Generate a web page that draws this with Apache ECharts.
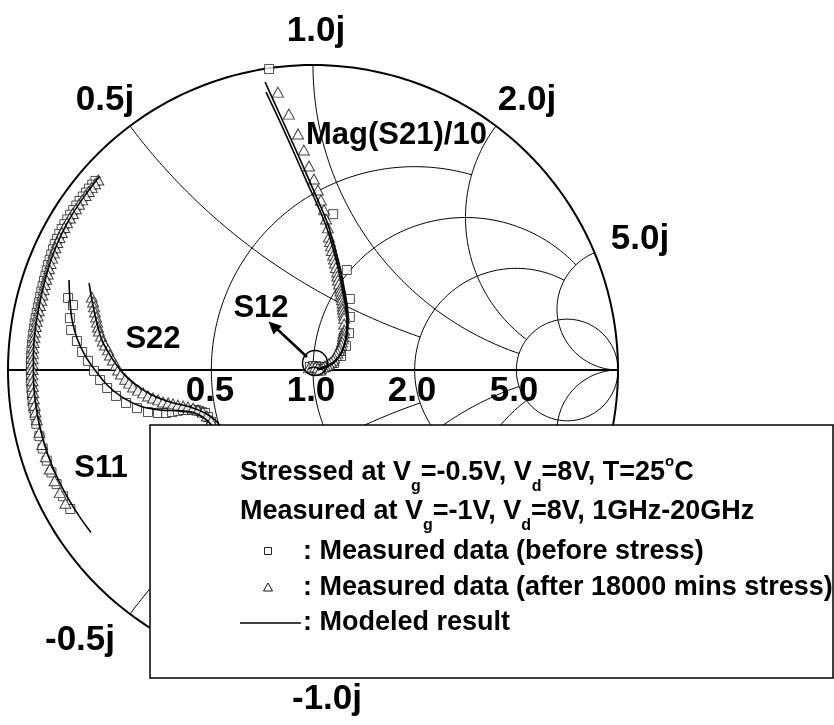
<!DOCTYPE html>
<html><head><meta charset="utf-8">
<script src="https://cdn.jsdelivr.net/npm/echarts@6/dist/echarts.min.js"></script>
<style>html,body{margin:0;padding:0;background:#fff;}#c{width:834px;height:725px;}</style>
</head><body><div id="c"></div>
<script>
// ---------------- DATA (reflection-coefficient plane) ----------------
// Smith chart grid values
const rValues = [0.5, 1, 2, 5];
const rLimits = [2, 5, 5, Infinity];   // reactance limit for each resistance circle
const xValues = [0.5, 1, 2, 5];
const xLimits = [2, 5, 5, Infinity];   // resistance limit for each reactance arc
const rTickLabels = ['0.5', '1.0', '2.0', '5.0'];
const xTickLabels = ['1.0j', '0.5j', '2.0j', '5.0j', '-0.5j', '-1.0j'];

// S11 (magnitude, angle in degrees)
const s11SqAng = [139.0,140.0,141.0,142.0,143.0,144.1,145.2,146.3,147.4,148.5,149.6,150.7,151.8,152.9,154.0,155.1,156.2,157.3,158.4,159.5,160.6,161.7,162.8,163.9,165.0,166.1,167.2,168.3,169.4,170.5,171.6,172.7,173.8,174.9,176.0,177.1,178.2,179.3,180.4,181.5,182.7,183.9,185.1,186.4,187.7,189.2,191.0,193.6,196.2,198.8,201.4,204.0,206.8,209.8];
const s11SqMag = [0.945,0.945,0.945,0.945,0.945,0.945,0.945,0.945,0.945,0.945,0.945,0.945,0.944,0.943,0.942,0.940,0.938,0.936,0.934,0.932,0.930,0.929,0.928,0.927,0.926,0.925,0.925,0.925,0.925,0.925,0.925,0.925,0.925,0.925,0.925,0.925,0.925,0.925,0.925,0.925,0.925,0.925,0.925,0.925,0.925,0.924,0.924,0.923,0.923,0.922,0.921,0.920,0.918,0.917];
const s11TrAng = [138.5,139.5,140.5,141.5,142.5,143.6,144.7,145.8,146.9,148.0,149.1,150.2,151.3,152.4,153.5,154.6,155.7,156.8,157.9,159.0,160.1,161.2,162.3,163.4,164.5,165.6,166.7,167.8,168.9,170.0,171.1,172.2,173.3,174.4,175.5,176.6,177.7,178.8,179.9,181.0,182.2,183.4,184.6,185.9,187.2,188.6,190.2,192.8,195.4,198.0,200.6,203.2,205.8,208.3];
const s11TrMag = [0.940,0.940,0.940,0.940,0.940,0.940,0.940,0.940,0.940,0.940,0.940,0.940,0.939,0.938,0.937,0.935,0.933,0.931,0.929,0.927,0.925,0.924,0.923,0.922,0.921,0.920,0.920,0.920,0.920,0.920,0.920,0.920,0.920,0.920,0.920,0.920,0.920,0.920,0.920,0.920,0.920,0.920,0.920,0.920,0.920,0.920,0.920,0.920,0.921,0.921,0.922,0.922,0.922,0.922];
const s11ModAng = [137.8,142,147,152,157,162,167,172,177,182,187,192,197,202,207,212,216.2];
const s11ModMag = [0.945,0.942,0.940,0.937,0.932,0.926,0.922,0.920,0.918,0.917,0.916,0.915,0.913,0.910,0.907,0.904,0.902];

// S22 (real, imaginary)
const s22SqRe = [-0.803,-0.787,-0.797,-0.793,-0.774,-0.757,-0.738,-0.718,-0.698,-0.675,-0.646,-0.613,-0.577,-0.541,-0.508,-0.482,-0.462,-0.443,-0.426,-0.410,-0.397,-0.384,-0.374,-0.364,-0.354,-0.344,-0.334];
const s22SqIm = [0.236,0.213,0.170,0.131,0.095,0.059,0.030,-0.003,-0.033,-0.059,-0.085,-0.108,-0.125,-0.138,-0.141,-0.141,-0.138,-0.134,-0.131,-0.131,-0.131,-0.131,-0.134,-0.138,-0.141,-0.154,-0.170];
const s22TrRe = [-0.725,-0.721,-0.718,-0.715,-0.711,-0.708,-0.705,-0.702,-0.695,-0.689,-0.682,-0.672,-0.666,-0.656,-0.646,-0.639,-0.630,-0.616,-0.603,-0.590,-0.574,-0.557,-0.541,-0.525,-0.508,-0.492,-0.475,-0.459,-0.443,-0.426,-0.410,-0.393,-0.377,-0.361,-0.348,-0.334];
const s22TrIm = [0.239,0.223,0.207,0.190,0.174,0.157,0.141,0.128,0.111,0.095,0.082,0.066,0.049,0.033,0.016,0.000,-0.013,-0.030,-0.043,-0.056,-0.066,-0.075,-0.085,-0.092,-0.098,-0.105,-0.108,-0.111,-0.115,-0.118,-0.121,-0.125,-0.131,-0.138,-0.151,-0.167];
const s22ModARe = [-0.800,-0.797,-0.790,-0.774,-0.748,-0.715,-0.675,-0.626,-0.567,-0.502,-0.436,-0.387,-0.348,-0.321];
const s22ModAIm = [0.295,0.230,0.164,0.105,0.049,0.000,-0.049,-0.089,-0.118,-0.131,-0.134,-0.141,-0.164,-0.197];
const s22ModBRe = [-0.734,-0.725,-0.711,-0.692,-0.662,-0.626,-0.580,-0.528,-0.469,-0.403,-0.354,-0.321,-0.298];
const s22ModBIm = [0.285,0.230,0.164,0.098,0.043,-0.007,-0.049,-0.082,-0.105,-0.121,-0.141,-0.164,-0.190];

// S21/10 (real, imaginary)
const s21SqRe = [-0.144,0.066,0.111,0.121,0.121,0.118,0.108,0.092,0.069,0.043];
const s21SqIm = [0.987,0.511,0.328,0.233,0.174,0.121,0.079,0.046,0.023,0.010];
const s21TrRe = [-0.115,-0.079,-0.049,-0.030,-0.013,0.003,0.016,0.026,0.036,0.043,0.049,0.052,0.056,0.059,0.062,0.066,0.069,0.072,0.075,0.079,0.080,0.082,0.085,0.089,0.090,0.092,0.094,0.095,0.097,0.098,0.098,0.100,0.102,0.102,0.102,0.102,0.100,0.098,0.098,0.095,0.092,0.088,0.085,0.080,0.075,0.070,0.066,0.059,0.052,0.046,0.039,0.033,0.026,0.020,0.013];
const s21TrIm = [0.911,0.839,0.774,0.721,0.669,0.626,0.590,0.557,0.525,0.495,0.466,0.436,0.421,0.407,0.392,0.377,0.364,0.351,0.336,0.321,0.308,0.295,0.282,0.269,0.259,0.249,0.239,0.230,0.220,0.210,0.200,0.190,0.180,0.170,0.151,0.131,0.121,0.111,0.102,0.092,0.082,0.072,0.064,0.056,0.048,0.039,0.032,0.026,0.020,0.016,0.013,0.010,0.006,0.003,0.000];
const s21ModARe = [-0.157,-0.108,-0.059,-0.016,0.016,0.046,0.069,0.089,0.102,0.111,0.115,0.111,0.098,0.075,0.046,0.016];
const s21ModAIm = [0.944,0.836,0.728,0.630,0.557,0.485,0.410,0.334,0.269,0.213,0.164,0.111,0.066,0.030,0.010,0.000];
const s21ModBRe = [-0.154,-0.105,-0.059,-0.020,0.013,0.043,0.066,0.085,0.098,0.108,0.111,0.108,0.095,0.072,0.043,0.013];
const s21ModBIm = [0.911,0.807,0.705,0.616,0.544,0.472,0.397,0.325,0.259,0.203,0.157,0.108,0.062,0.030,0.013,0.003];

// S12 (real, imaginary)
const s12SqRe = [-0.010,0.000,0.010,0.020,0.026];
const s12SqIm = [0.010,0.013,0.013,0.010,0.003];
const s12TrRe = [-0.013,-0.003,0.007,0.016,0.023];
const s12TrIm = [0.007,0.010,0.010,0.007,0.000];
const s12ModRe = [-0.016,-0.005,0.006,0.016,0.026];
const s12ModIm = [0.003,0.008,0.009,0.006,0.002];

// ---------------- HELPERS ----------------
const FONT = '"Liberation Sans", Arial, Helvetica, sans-serif';
const polar = (mag, ang) => mag.map((m, i) => [m * Math.cos(ang[i] * Math.PI / 180), m * Math.sin(ang[i] * Math.PI / 180)]);
const zipRI = (re, im) => re.map((v, i) => [v, im[i]]);

function rCircle(r, xmax) {
  const cx = r / (1 + r), R = 1 / (1 + r);
  let phi0 = 0;
  if (isFinite(xmax)) {
    const d = (r + 1) * (r + 1) + xmax * xmax;
    const gr = (r * r + xmax * xmax - 1) / d, gi = 2 * xmax / d;
    phi0 = Math.atan2(gi, gr - cx);
  }
  const pts = [], N = 240;
  for (let k = 0; k <= N; k++) {
    const p = phi0 + (2 * Math.PI - 2 * phi0) * k / N;
    pts.push([cx + R * Math.cos(p), R * Math.sin(p)]);
  }
  return pts;
}
function xArc(x, rmax) {
  const s = x > 0 ? 1 : -1, ax = Math.abs(x), R = 1 / ax;
  const norm = a => (a < 0 ? a + 2 * Math.PI : a);
  const g0r = (ax * ax - 1) / (1 + ax * ax), g0i = 2 * ax / (1 + ax * ax);
  const t0 = norm(Math.atan2(g0i - R, g0r - 1));
  let t1 = 1.5 * Math.PI;
  if (isFinite(rmax)) {
    const d = (rmax + 1) * (rmax + 1) + ax * ax;
    const gr = (rmax * rmax + ax * ax - 1) / d, gi = 2 * ax / d;
    t1 = norm(Math.atan2(gi - R, gr - 1));
  }
  const pts = [], N = 200;
  for (let k = 0; k <= N; k++) {
    const t = t0 + (t1 - t0) * k / N;
    pts.push([1 + R * Math.cos(t), s * (R + R * Math.sin(t))]);
  }
  return pts;
}

// ---------------- SERIES ----------------
const series = [];
const gridLine = (data, w) => ({ type: 'line', data, symbol: 'none', showSymbol: false, silent: true, animation: false,
  lineStyle: { color: '#000', width: w }, z: 1, clip: false });
rValues.forEach((r, i) => series.push(gridLine(rCircle(r, rLimits[i]), 1)));
xValues.forEach((x, i) => { series.push(gridLine(xArc(x, xLimits[i]), 1)); series.push(gridLine(xArc(-x, xLimits[i]), 1)); });
series.push(gridLine(rCircle(0, Infinity), 2));
series.push(gridLine([[-1, 0], [1, 0]], 2.2));

const sq = data => ({ type: 'scatter', data, symbol: 'rect', symbolSize: 9, animation: false, z: 3,
  itemStyle: { color: '#fff', borderColor: '#222', borderWidth: 1 } });
const tr = data => ({ type: 'scatter', data, symbol: 'triangle', symbolSize: [11, 10], animation: false, z: 4,
  itemStyle: { color: '#fff', borderColor: '#111', borderWidth: 1 } });
const mod = data => ({ type: 'line', data, symbol: 'none', showSymbol: false, smooth: 0.35, animation: false, z: 5,
  lineStyle: { color: '#000', width: 1.6 }, clip: false });

series.push(sq(polar(s11SqMag, s11SqAng)), tr(polar(s11TrMag, s11TrAng)), mod(polar(s11ModMag, s11ModAng)));
series.push(sq(zipRI(s22SqRe, s22SqIm)), tr(zipRI(s22TrRe, s22TrIm)), mod(zipRI(s22ModARe, s22ModAIm)), mod(zipRI(s22ModBRe, s22ModBIm)));
series.push(sq(zipRI(s21SqRe, s21SqIm)), tr(zipRI(s21TrRe, s21TrIm)), mod(zipRI(s21ModARe, s21ModAIm)), mod(zipRI(s21ModBRe, s21ModBIm)));
series.push(sq(zipRI(s12SqRe, s12SqIm)), tr(zipRI(s12TrRe, s12TrIm)), mod(zipRI(s12ModRe, s12ModIm)));

// ---------------- TEXT / ANNOTATIONS ----------------
const mctx = document.createElement('canvas').getContext('2d');
const fontStr = size => 'bold ' + size + 'px ' + FONT;
function measure(t, size) { mctx.font = fontStr(size); return mctx.measureText(t).width; }
function txt(t, x, y, size, align, z) {
  return { type: 'text', x, y, z: z, silent: true,
    style: { text: t, font: fontStr(size), fill: '#000', align: align, verticalAlign: 'middle', textAlign: align, textVerticalAlign: 'middle' } };
}
function row(x0, y, pieces, z) {
  const out = []; let x = x0;
  pieces.forEach(p => {
    const size = p.size || 27;
    out.push(txt(p.t, x, y + (p.dy || 0), size, 'left', z));
    x += measure(p.t, size);
  });
  return out;
}

const g = [];
// reactance labels
const xLabelPos = [[316, 31], [105, 100], [527, 100], [640, 239], [80, 640], [327, 699]];
xTickLabels.forEach((t, i) => g.push(txt(t, xLabelPos[i][0], xLabelPos[i][1], 35, 'center', 0)));
// resistance labels
const rLabelX = [210, 311, 412, 514];
rTickLabels.forEach((t, i) => g.push(txt(t, rLabelX[i], 391, 35, 'center', 0)));
// curve labels
g.push(txt('Mag(S21)/10', 306, 135, 31, 'left', 6));
g.push(txt('S12', 261, 308, 31, 'center', 6));
g.push(txt('S22', 153, 339, 31, 'center', 6));
g.push(txt('S11', 101, 468, 31, 'center', 6));
// S12 circle and arrow
g.push({ type: 'circle', z: 6, silent: true, shape: { cx: 315, cy: 363, r: 12.5 }, style: { fill: 'none', stroke: '#000', lineWidth: 1.5 } });
g.push({ type: 'line', z: 6, silent: true, shape: { x1: 307, y1: 357, x2: 276, y2: 328 }, style: { stroke: '#000', lineWidth: 2.5 } });
g.push({ type: 'polygon', z: 6, silent: true, shape: { points: [[268.5, 321.5], [282, 326], [273.5, 334.5]] }, style: { fill: '#000' } });

// legend box
g.push({ type: 'rect', z: 100, silent: true, shape: { x: 150, y: 425, width: 683, height: 253 }, style: { fill: '#fff', stroke: '#000', lineWidth: 1.5 } });
const ROWS = [473, 512, 552, 588, 623];
row(240, ROWS[0], [{ t: 'Stressed at V' }, { t: 'g', size: 16, dy: 14 }, { t: '=-0.5V, V' }, { t: 'd', size: 16, dy: 14 }, { t: '=8V, T=25' }, { t: 'o', size: 15, dy: -11 }, { t: 'C' }], 101).forEach(e => g.push(e));
row(240, ROWS[1], [{ t: 'Measured at V' }, { t: 'g', size: 16, dy: 14 }, { t: '=-1V, V' }, { t: 'd', size: 16, dy: 14 }, { t: '=8V, 1GHz-20GHz' }], 101).forEach(e => g.push(e));
g.push({ type: 'rect', z: 101, silent: true, shape: { x: 264.5, y: ROWS[2] - 4.5, width: 7, height: 7 }, style: { fill: '#fff', stroke: '#222', lineWidth: 1 } });
g.push(txt(': Measured data (before stress)', 303, ROWS[2], 27, 'left', 101));
g.push({ type: 'polygon', z: 101, silent: true, shape: { points: [[268, ROWS[3] - 5], [272.5, ROWS[3] + 3], [263.5, ROWS[3] + 3]] }, style: { fill: '#fff', stroke: '#111', lineWidth: 1 } });
g.push(txt(': Measured data (after 18000 mins stress)', 303, ROWS[3], 27, 'left', 101));
g.push({ type: 'line', z: 101, silent: true, shape: { x1: 240, y1: ROWS[4], x2: 301, y2: ROWS[4] }, style: { stroke: '#000', lineWidth: 1.5 } });
g.push(txt(': Modeled result', 303, ROWS[4], 27, 'left', 101));

const chart = echarts.init(document.getElementById('c'), null, { renderer: 'canvas' });
chart.setOption({
  animation: false,
  backgroundColor: '#fff',
  grid: { left: 8, top: 65, width: 610, height: 610, containLabel: false },
  xAxis: { type: 'value', min: -1, max: 1, show: false },
  yAxis: { type: 'value', min: -1, max: 1, show: false },
  series: series,
  graphic: { elements: g }
});
</script></body></html>
